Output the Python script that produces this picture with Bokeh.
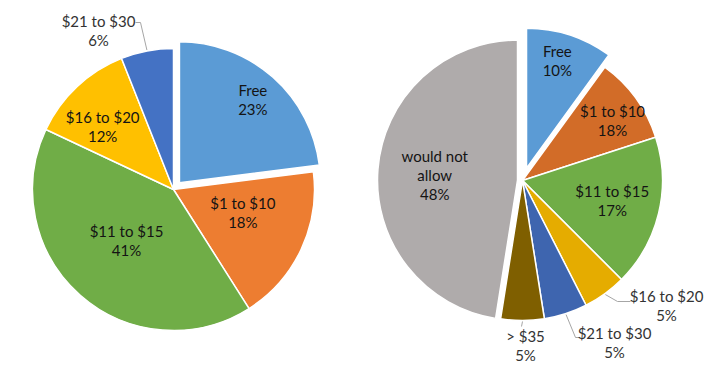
import math
from bokeh.plotting import figure
from bokeh.models import Range1d
from bokeh.embed import file_html
from bokeh.resources import INLINE
from bokeh.core.properties import value

# ---------------- data ----------------
left_categories = ["Free", "$1 to $10", "$11 to $15", "$16 to $20", "$21 to $30"]
left_shares = [23, 18, 41, 12, 6]
left_pct_labels = ["23%", "18%", "41%", "12%", "6%"]

right_categories = ["Free", "$1 to $10", "$11 to $15", "$16 to $20",
                    "$21 to $30", "> $35", "would not allow"]
right_shares = [10, 10, 17.5, 5, 5, 5, 47.5]
right_pct_labels = ["10%", "18%", "17%", "5%", "5%", "5%", "48%"]

# ---------------- styles / layout ----------------
left_colors = ["#5B9BD5", "#ED7D31", "#70AD47", "#FFC000", "#4472C4"]
right_colors = ["#5B9BD5", "#D26C28", "#70AD47", "#E5AC00", "#3E65AF",
                "#7F5F00", "#AFABAB"]

FONT = "Lato"
FSIZE = "15px"
LINE_H = 19
IN_COLOR = "#141414"
OUT_COLOR = "#333333"
LEADER = "#A6A6A6"

W, H = 704, 364


def X(x):
    return x


def Y(y):
    return 380 - y


p = figure(width=W, height=H, x_range=Range1d(0, 704), y_range=Range1d(16, 380),
           x_axis_type=None, y_axis_type=None, toolbar_location=None,
           output_backend="svg", min_border=0)
p.grid.visible = False
p.outline_line_color = None
p.background_fill_color = "white"
p.border_fill_color = "white"


def draw_text(cx, cy, lines, color):
    """cx, cy in image coords: centre of text block."""
    n = len(lines)
    ys = [cy + (i - (n - 1) / 2) * LINE_H for i in range(n)]
    p.text(x=[X(cx)] * n, y=[Y(v) for v in ys], text=lines,
           text_font=value(FONT), text_font_size=value(FSIZE),
           text_color=color, text_align="center", text_baseline="middle")


def draw_pie(center, radius, shares, colors, explode, cats, pcts, placement, wraps):
    cx, cy = center
    total = float(sum(shares))
    cum = 0.0
    for i, s in enumerate(shares):
        a0 = cum / total * 360.0
        a1 = (cum + s) / total * 360.0
        cum += s
        bis = math.radians((a0 + a1) / 2)
        ox = explode[i] * math.sin(bis)
        oy = explode[i] * math.cos(bis)  # upward in data
        wx, wy = X(cx) + ox, Y(cy) + oy
        p.wedge(x=[wx], y=[wy], radius=radius,
                start_angle=math.pi / 2 - math.radians(a0),
                end_angle=math.pi / 2 - math.radians(a1),
                direction="clock", fill_color=colors[i],
                line_color="white", line_width=1.5)
        lines = wraps.get(cats[i], [cats[i]]) + [pcts[i]]
        pl = placement[i]
        if pl[0] == "in":
            _, r, dang = pl
            ang = (a0 + a1) / 2 + dang
            lx = X(cx) + r * math.sin(math.radians(ang))
            ly = Y(cy) + r * math.cos(math.radians(ang))
            draw_text(lx, 380 - ly, lines, IN_COLOR)
        else:
            _, tx, ty, pts = pl
            ex = X(cx) + (radius + 1) * math.sin(bis)
            ey = Y(cy) + (radius + 1) * math.cos(bis)
            xs = [ex] + [q[0] for q in pts]
            ys = [ey] + [Y(q[1]) for q in pts]
            p.line(xs, ys, line_color=LEADER, line_width=1)
            draw_text(tx, ty, lines, OUT_COLOR)


left_place = [
    ("in", 120, 0),
    ("in", 73, -7),
    ("in", 69, 1.5),
    ("in", 95, -5),
    ("out", 98, 29.5, [(140, 22), (135, 22)]),
]
draw_pie((173, 189), 141, left_shares, left_colors, [9, 0, 0, 0, 0],
         left_categories, left_pct_labels, left_place, {})

right_place = [
    ("in", 125, -1.8),
    ("in", 108, 2.5),
    ("in", 92, -0.7),
    ("out", 666, 305, [(617, 301), (630, 301)]),
    ("out", 614, 342, [(575, 337), (579, 337)]),
    ("out", 525, 345, [(521, 326)]),
    ("in", 88, -0.6),
]
draw_pie((522, 180), 140, right_shares, right_colors, [13, 0, 0, 0, 0, 0, 5],
         right_categories, right_pct_labels, right_place,
         {"would not allow": ["would not", "allow"]})

open("out.html", "w").write(file_html(p, INLINE))
